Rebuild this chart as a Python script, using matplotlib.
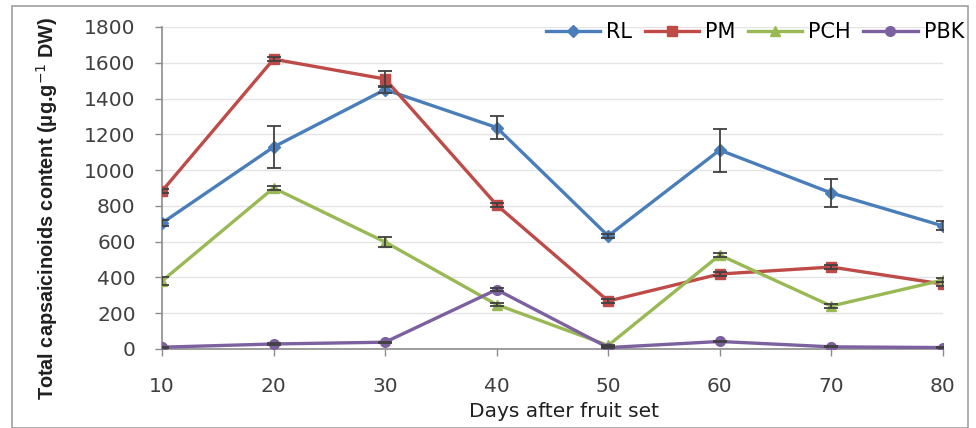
import numpy as np
import matplotlib.pyplot as plt
from matplotlib.patches import Rectangle

plt.rcParams['font.family'] = ['DejaVu Sans']

days = [10, 20, 30, 40, 50, 60, 70, 80]

rl = [704, 1129, 1450, 1238, 632, 1112, 872, 688]
rl_err = [15, 115, 20, 65, 10, 120, 78, 25]

pm = [883, 1620, 1509, 805, 268, 419, 458, 363]
pm_err = [10, 10, 45, 10, 10, 10, 10, 10]

pch = [380, 900, 598, 248, 20, 525, 240, 385]
pch_err = [25, 10, 30, 10, 5, 10, 10, 10]

pbk = [10, 28, 38, 332, 8, 42, 12, 8]
pbk_err = [3, 3, 3, 10, 3, 3, 3, 3]

series = [
    ('RL', rl, rl_err, '#4A7EBB', 'D', 6),
    ('PM', pm, pm_err, '#BE4B48', 's', 7),
    ('PCH', pch, pch_err, '#98B954', '^', 7),
    ('PBK', pbk, pbk_err, '#7D60A0', 'o', 7),
]

fig = plt.figure(figsize=(9.76, 4.28), dpi=100)
# grey frame around the chart
fig.patches.append(Rectangle((12 / 976, 0), 956 / 976, 422 / 428, transform=fig.transFigure,
                             fill=False, edgecolor='#A0A0A0', linewidth=1.2))
ax = fig.add_axes([0.166, 0.1846, 0.800, 0.7524])

for name, vals, err, col, mk, ms in series:
    ax.errorbar(days, vals, yerr=err, fmt='none', ecolor='#404040', elinewidth=1.3,
                capsize=5, capthick=1.3, zorder=4)
    ax.plot(days, vals, color=col, marker=mk, markersize=ms, linewidth=2.4, label=name, zorder=3)

ax.set_xlim(10, 80)
ax.set_ylim(0, 1800)
ax.set_xticks(days)
ax.set_yticks(np.arange(0, 1801, 200))
ax.grid(axis='y', color='#E4E4E4', linewidth=1)
ax.set_axisbelow(True)
for s in ['top', 'right']:
    ax.spines[s].set_visible(False)
for s in ['left', 'bottom']:
    ax.spines[s].set_color('#8C8C8C')
    ax.spines[s].set_linewidth(1.2)

ax.set_xlabel('Days after fruit set', fontsize=14.5, color='#202020')
ax.xaxis.set_label_coords(0.515, -0.165)
ax.set_ylabel('Total capsaicinoids content (μg.g$^{-1}$ DW)', fontsize=14.3,
              fontweight='bold', color='#202020', family='Liberation Sans')
ax.yaxis.set_label_coords(-0.131, 0.438)

ax.legend(loc='upper right', bbox_to_anchor=(1.038, 1.04), ncol=4, frameon=False,
          fontsize=15, handlelength=2.6, columnspacing=0.6, handletextpad=0.3, borderaxespad=0)

ax.tick_params(axis='both', labelsize=14.5, colors='#404040', length=5, width=1, color='#8C8C8C')
ax.tick_params(axis='x', pad=15)
ax.tick_params(axis='y', pad=14)

plt.savefig('out.png', dpi=100)
